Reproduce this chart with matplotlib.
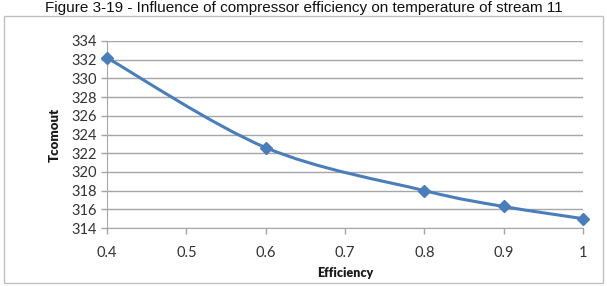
import matplotlib
matplotlib.use("Agg")
import matplotlib.pyplot as plt
from matplotlib.path import Path
from matplotlib.patches import PathPatch, Rectangle
import numpy as np

# Data
efficiency = [0.4, 0.6, 0.8, 0.9, 1.0]
tcomout = [332.2, 322.6, 318.0, 316.3, 315.0]
x_ticks = [0.4, 0.5, 0.6, 0.7, 0.8, 0.9, 1.0]
x_tick_labels = ["0.4", "0.5", "0.6", "0.7", "0.8", "0.9", "1"]
y_ticks = list(range(314, 335, 2))

title = "Figure 3-19 - Influence of compressor efficiency on temperature of stream 11"
xlabel = "Efficiency"
ylabel = "Tcomout"

W, H = 607, 286
fig = plt.figure(figsize=(W / 100, H / 100), dpi=100)
fig.patch.set_facecolor("white")

# Outer chart border
fig.patches.append(Rectangle((4 / W, 1 - 283 / H), (603 - 4) / W, (283 - 16) / H,
                             transform=fig.transFigure, fill=False,
                             edgecolor="#bfbfbf", linewidth=1.0))

ax = fig.add_axes([107 / W, 1 - 228 / H, (583 - 107) / W, (228 - 41) / H])
ax.set_xlim(0.4, 1.0)
ax.set_ylim(314, 334)

line_color = "#4a7ebb"

# Smooth (Excel-like) curve via cubic Bezier segments (Catmull-Rom control points)
xs = np.array(efficiency)
ys = np.array(tcomout)
n = len(xs)
verts = [(xs[0], ys[0])]
codes = [Path.MOVETO]
t = 1 / 6
for i in range(n - 1):
    p0 = np.array([xs[max(i - 1, 0)], ys[max(i - 1, 0)]])
    p1 = np.array([xs[i], ys[i]])
    p2 = np.array([xs[i + 1], ys[i + 1]])
    p3 = np.array([xs[min(i + 2, n - 1)], ys[min(i + 2, n - 1)]])
    c1 = p1 + (p2 - p0) * t
    c2 = p2 - (p3 - p1) * t
    verts += [tuple(c1), tuple(c2), tuple(p2)]
    codes += [Path.CURVE4] * 3
ax.add_patch(PathPatch(Path(verts, codes), facecolor="none", edgecolor=line_color,
                       linewidth=2.2, clip_on=False, zorder=3))
ax.plot(efficiency, tcomout, linestyle="none", marker="D", markersize=6.5,
        color=line_color, clip_on=False, zorder=4)

ax.set_yticks(y_ticks)
ax.set_xticks(x_ticks)
ax.set_xticklabels(x_tick_labels)
ax.grid(axis="y", color="#a6a6a6", linewidth=1.0)
ax.set_axisbelow(True)
for s in ["top", "right"]:
    ax.spines[s].set_visible(False)
ax.spines["left"].set_color("#a6a6a6")
ax.spines["bottom"].set_color("#a6a6a6")
ax.tick_params(axis="both", colors="#a6a6a6", length=4, width=1, labelcolor="#333333",
               labelsize=10.5)
ax.tick_params(axis="x", pad=9)
ax.tick_params(axis="y", pad=3)
for lab in ax.get_xticklabels() + ax.get_yticklabels():
    lab.set_fontfamily("Lato")

ax.set_xlabel(xlabel, fontfamily="Lato", fontweight="heavy", fontsize=9, color="#1a1a1a",
              labelpad=5)
ax.set_ylabel(ylabel, fontfamily="Lato", fontweight="heavy", fontsize=9.5, color="#1a1a1a",
              labelpad=8)

fig.text(0.5, 1 - 8 / H, title, ha="center", va="center", fontsize=11,
         fontfamily="Liberation Sans", color="#111111")

fig.savefig("out.png", dpi=100)
